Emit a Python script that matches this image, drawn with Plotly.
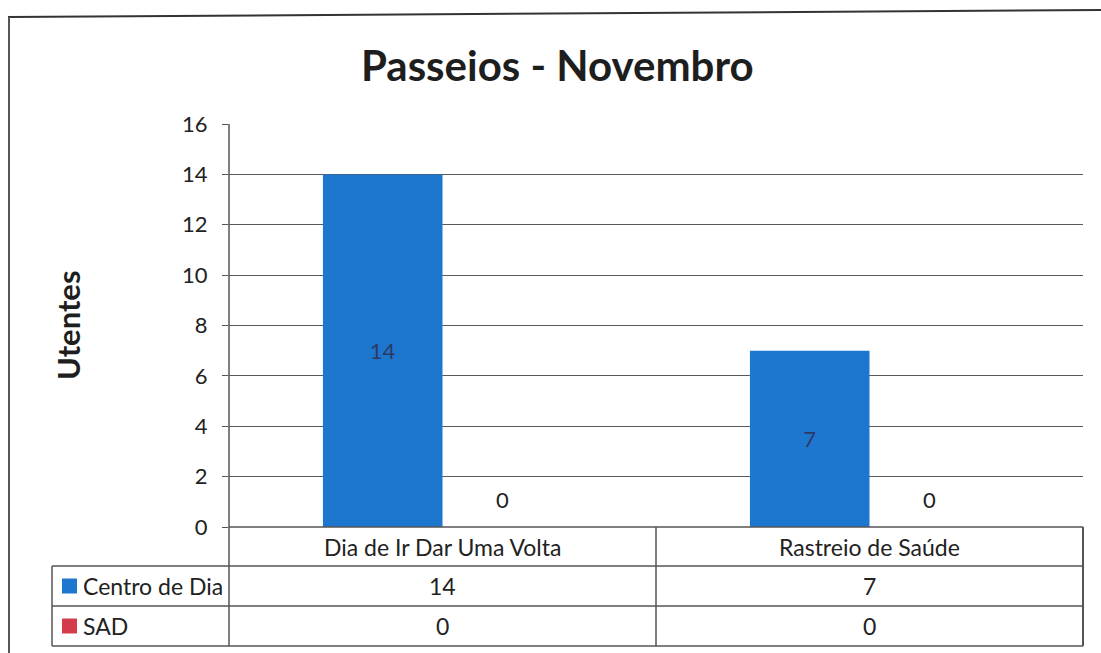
import plotly.graph_objects as go

# Chart data
categories = ["Dia de Ir Dar Uma Volta", "Rastreio de Saúde"]
series_names = ["Centro de Dia", "SAD"]
centro_de_dia = [14, 7]
sad = [0, 0]
series_colors = ["#1D77CF", "#D43C4C"]
y_ticks = [0, 2, 4, 6, 8, 10, 12, 14, 16]

W, H = 1101, 653
FONT = "Lato"
LINE = "#555555"
TEXT = "#222222"


def px(x):
    return x / W


def py(y):
    return 1 - y / H


# plot area in pixels
PL, PR, PT, PB = 229, 1083, 124, 527
# data table geometry
TABLE_LEFT = 52
ROW_LINES = [PB, 566, 606, 646]
COL_DIV = (PL + PR) / 2

fig = go.Figure()
fig.add_trace(go.Bar(
    name=series_names[0], x=categories, y=centro_de_dia,
    marker=dict(color=series_colors[0], line=dict(width=0)),
    text=[str(v) for v in centro_de_dia], textposition="inside",
    insidetextanchor="middle",
    textfont=dict(family=FONT, size=22, color="#2c3a66"),
))
fig.add_trace(go.Bar(
    name=series_names[1], x=categories, y=sad,
    marker=dict(color=series_colors[1], line=dict(width=0)),
))

bargap = 0.44
cat_w = (PR - PL) / len(categories)
bar_w = cat_w * (1 - bargap) / 2

annotations = []
# value labels above the SAD bars
for c, v in zip(categories, sad):
    annotations.append(dict(
        x=c, y=v, xref="x", yref="y", text=str(v), showarrow=False,
        xshift=bar_w / 2, yshift=28, xanchor="center", yanchor="middle",
        font=dict(family=FONT, size=22, color=TEXT),
    ))

# title
annotations.append(dict(
    x=px(557), y=py(65), xref="paper", yref="paper", text="<b>Passeios - Novembro</b>",
    showarrow=False, font=dict(family=FONT, size=42, color="#1e1e1e"),
    xanchor="center", yanchor="middle",
))
# y axis title
annotations.append(dict(
    x=px(68), y=py(325), xref="paper", yref="paper", text="<b>Utentes</b>",
    showarrow=False, textangle=-90, font=dict(family=FONT, size=31, color="#1e1e1e"),
    xanchor="center", yanchor="middle",
))

# data table: header row with categories, then one row per series
row_centers = [(ROW_LINES[i] + ROW_LINES[i + 1]) / 2 for i in range(3)]
for i, c in enumerate(categories):
    cx = PL + cat_w * (i + 0.5)
    annotations.append(dict(
        x=px(cx), y=py(row_centers[0]), xref="paper", yref="paper", text=c,
        showarrow=False, xanchor="center", yanchor="middle",
        font=dict(family=FONT, size=23, color=TEXT),
    ))
    for r, vals in enumerate([centro_de_dia, sad]):
        annotations.append(dict(
            x=px(cx), y=py(row_centers[r + 1]), xref="paper", yref="paper",
            text=str(vals[i]), showarrow=False, xanchor="center", yanchor="middle",
            font=dict(family=FONT, size=23, color=TEXT),
        ))

shapes = []
for r, name in enumerate(series_names):
    yc = row_centers[r + 1]
    annotations.append(dict(
        x=px(81), y=py(yc), xref="paper", yref="paper", text=name,
        showarrow=False, xanchor="left", yanchor="middle",
        font=dict(family=FONT, size=23, color=TEXT),
    ))
    shapes.append(dict(
        type="rect", xref="paper", yref="paper",
        x0=px(62), x1=px(77), y0=py(yc + 7.5), y1=py(yc - 7.5),
        fillcolor=series_colors[r], line=dict(width=0),
    ))


def hline(x0, x1, y, w=1.5):
    shapes.append(dict(type="line", xref="paper", yref="paper",
                       x0=px(x0), x1=px(x1), y0=py(y), y1=py(y),
                       line=dict(color=LINE, width=w)))


def vline(x, y0, y1, w=1.5):
    shapes.append(dict(type="line", xref="paper", yref="paper",
                       x0=px(x), x1=px(x), y0=py(y0), y1=py(y1),
                       line=dict(color=LINE, width=w)))


hline(PL, PR, ROW_LINES[0])
for y in ROW_LINES[1:]:
    hline(TABLE_LEFT, PR, y)
vline(TABLE_LEFT, ROW_LINES[1], ROW_LINES[3])
vline(PL, PT, ROW_LINES[3])
vline(COL_DIV, ROW_LINES[0], ROW_LINES[3])
vline(PR, ROW_LINES[0], ROW_LINES[3], 2)

# outer chart border
shapes.append(dict(type="line", xref="paper", yref="paper",
                   x0=px(8), x1=px(1101), y0=py(17), y1=py(10),
                   line=dict(color="#333333", width=2)))
vline(9, 17, 653, 2)

fig.update_layout(
    width=W, height=H,
    margin=dict(l=0, r=0, t=0, b=0, pad=0, autoexpand=False),
    paper_bgcolor="white", plot_bgcolor="white",
    barmode="group", bargap=bargap, bargroupgap=0,
    showlegend=False,
    xaxis=dict(domain=[px(PL), px(PR)], showticklabels=False, showgrid=False,
               zeroline=False, showline=False, ticks="", fixedrange=True,
               automargin=False),
    yaxis=dict(domain=[py(PB), py(PT)], range=[0, 16], tickvals=y_ticks,
               showgrid=True, gridcolor="#5a5a5a", gridwidth=1.3,
               zeroline=False, showline=False, ticks="outside", ticklen=6,
               tickcolor=LINE, tickwidth=1.3, ticklabelstandoff=10,
               automargin=False, fixedrange=True,
               tickfont=dict(family=FONT, size=22, color=TEXT)),
    annotations=annotations,
    shapes=shapes,
)

fig.write_html("out.html")
